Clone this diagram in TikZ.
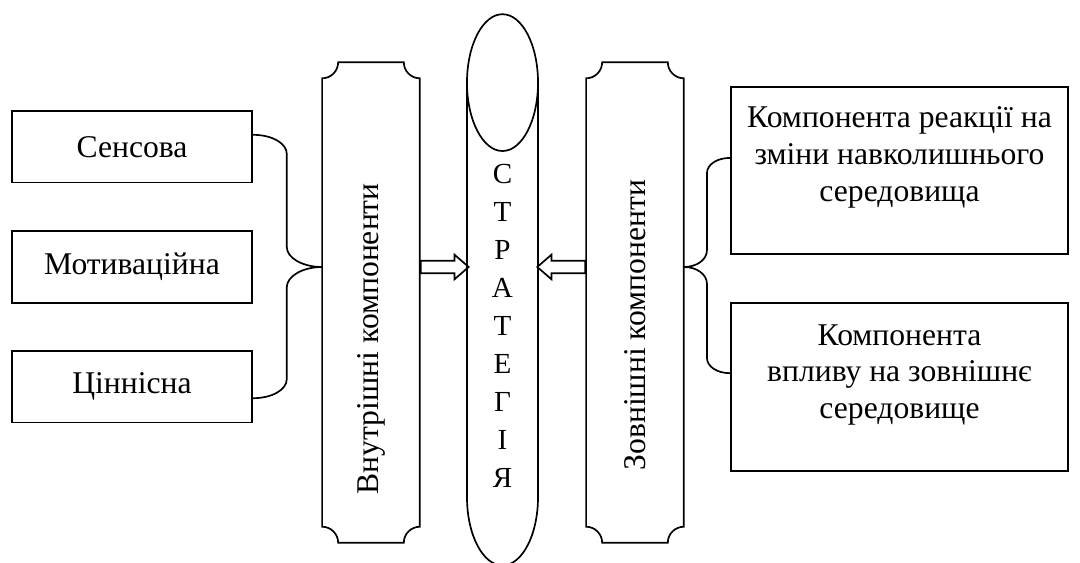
\documentclass[tikz,border=0pt]{standalone}
\usepackage{fontspec}
\setmainfont{Liberation Serif}
\usetikzlibrary{shapes.arrows}

\begin{document}
\begin{tikzpicture}[thick,
  font=\fontsize{15}{17.5}\selectfont,
  leftbox/.style={draw, minimum width=4cm, minimum height=1.19cm},
  rightbox/.style={draw, minimum width=5.62cm},
  sidebox/.style={minimum width=1.6cm, minimum height=7.98cm},
  hollowarrow/.style={single arrow, draw, inner sep=0.0915cm, minimum height=0.8cm,
    single arrow head extend=0.1cm, single arrow tip angle=82}]
  \useasboundingbox (0,0) rectangle (18,9.367);
  \node[leftbox] (sens) at (2.2,6.92) {Сенсова};
  \node[leftbox] (motiv) at (2.2,4.917) {Мотиваційна};
  \node[leftbox] (value) at (2.2,2.92) {Ціннісна};
  \node[sidebox] (inner) at (6.183,4.325) {};
  \node[sidebox] (outer) at (10.583,4.325) {};
  \foreach \b in {inner,outer}
    \draw ([yshift=-0.267cm]\b.north west) arc[start angle=270, end angle=360, radius=0.267cm]
      -- ([xshift=-0.267cm]\b.north east) arc[start angle=180, end angle=270, radius=0.267cm]
      -- ([yshift=0.267cm]\b.south east) arc[start angle=90, end angle=180, radius=0.267cm]
      -- ([xshift=0.267cm]\b.south west) arc[start angle=0, end angle=90, radius=0.267cm]
      -- cycle;
  \node[rotate=90] (innertext) at (6.183,3.72) {Внутрішні компоненти};
  \node[rotate=90] (outertext) at (10.583,3.95) {Зовнішні компоненти};
  \draw (8.375,7.99) ellipse [x radius=0.592, y radius=1.14];
  \draw (7.783,7.99) -- (7.783,1.083) arc[start angle=180, end angle=360, x radius=0.592, y radius=1.14]
    -- (8.967,7.99);
  \node[align=center, font=\fontsize{13.8}{18}\selectfont] (strat) at (8.375,3.94)
    {С\\Т\\Р\\А\\Т\\Е\\Г\\І\\Я};
  \node[hollowarrow, anchor=tail] (inarrow) at (inner.east |- motiv) {};
  \node[hollowarrow, shape border rotate=180, anchor=tail] (outarrow) at (outer.west |- motiv) {};
  \node[rightbox, minimum height=2.783cm] (react) at (14.992,6.525) {};
  \node[rightbox, minimum height=2.8cm] (impact) at (14.992,2.917) {};
  \node[align=center] (reacttext) at ([yshift=0.22cm]react.center)
    {Компонента реакції на\\зміни навколишнього\\середовища};
  \node[align=center] (impacttext) at ([yshift=0.2cm]impact.center)
    {Компонента\\впливу на зовнішнє\\середовище};
  \draw ([yshift=0.2cm]sens.east) .. controls +(0.32,0) and +(0,0.18) .. (4.78,6.8)
    -- (4.78,5.25) .. controls +(0,-0.18) and +(-0.33,0) .. (inner.west |- motiv)
    .. controls +(-0.33,0) and +(0,0.18) .. (4.78,4.58)
    -- (4.78,3.05) .. controls +(0,-0.18) and +(0.32,0) .. ([yshift=-0.19cm]value.east);
  \draw ([yshift=0.21cm]react.west) .. controls +(-0.22,0) and +(0,0.14) .. (11.783,6.483)
    -- (11.783,5.2) .. controls +(0,-0.16) and +(0.22,0) .. (outer.east |- motiv)
    .. controls +(0.22,0) and +(0,0.16) .. (11.783,4.633)
    -- (11.783,3.4) .. controls +(0,-0.14) and +(-0.22,0) .. ([yshift=0.23cm]impact.west);
\end{tikzpicture}
\end{document}
